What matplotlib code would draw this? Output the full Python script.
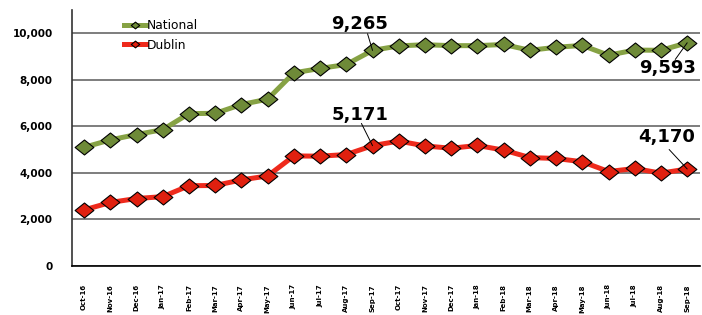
import numpy as np
import matplotlib
matplotlib.use("Agg")
import matplotlib.pyplot as plt
from matplotlib.path import Path

months = ["Oct-16", "Nov-16", "Dec-16", "Jan-17", "Feb-17", "Mar-17", "Apr-17", "May-17",
          "Jun-17", "Jul-17", "Aug-17", "Sep-17", "Oct-17", "Nov-17", "Dec-17", "Jan-18",
          "Feb-18", "Mar-18", "Apr-18", "May-18", "Jun-18", "Jul-18", "Aug-18", "Sep-18"]

national = [5100, 5420, 5650, 5860, 6550, 6560, 6940, 7170, 8300, 8490, 8660, 9265,
            9460, 9510, 9470, 9470, 9520, 9270, 9400, 9480, 9060, 9280, 9270, 9593]
dublin = [2410, 2730, 2900, 2980, 3450, 3460, 3700, 3870, 4730, 4720, 4790, 5171,
          5370, 5160, 5060, 5180, 4980, 4660, 4620, 4480, 4060, 4190, 3990, 4170]

nat_line = "#86a244"
nat_mark = "#6e8a38"
dub_line = "#ee2a1c"
dub_mark = "#e0200f"

# flattened diamond, a bit wider than tall
diamond = Path([(-1, 0), (0, 0.8), (1, 0), (0, -0.8), (-1, 0)],
               [Path.MOVETO, Path.LINETO, Path.LINETO, Path.LINETO, Path.CLOSEPOLY])

fig = plt.figure(figsize=(7.02, 3.15), dpi=100)
ax = fig.add_axes([0.1026, 0.1556, 0.895, 0.8125])

x = np.arange(len(months))
ax.plot(x, national, color=nat_line, lw=3.6, marker=diamond, ms=13.5,
        mfc=nat_mark, mec="black", mew=0.8, label="National", zorder=3)
ax.plot(x, dublin, color=dub_line, lw=3.6, marker=diamond, ms=13.5,
        mfc=dub_mark, mec="black", mew=0.8, label="Dublin", zorder=3)

ax.set_xlim(-0.46, 23.5)
ax.set_ylim(0, 11000)
ax.set_yticks(np.arange(0, 10001, 2000))
ax.set_yticklabels(["{:,}".format(v) for v in range(0, 10001, 2000)],
                   fontsize=7.5, fontweight="bold")
ax.set_xticks(x)
ax.set_xticklabels(months, rotation=90, fontsize=5, fontweight="bold",
                   family=["Liberation Sans Narrow", "DejaVu Sans"])
ax.tick_params(axis="y", length=0, pad=14)
ax.tick_params(axis="x", length=0, pad=13)
ax.yaxis.grid(True, color="#5a5a5a", lw=1.1)
ax.set_axisbelow(True)
for s in ["top", "right"]:
    ax.spines[s].set_visible(False)
ax.spines["left"].set_color("#333333")
ax.spines["bottom"].set_color("black")
ax.spines["left"].set_linewidth(1.2)
ax.spines["bottom"].set_linewidth(1.2)

leg = ax.legend(loc="upper left", bbox_to_anchor=(0.075, 0.984), frameon=False,
                fontsize=8.8, handlelength=1.8, markerscale=0.45, labelspacing=0.55,
                handletextpad=0.05, borderaxespad=0)

def label(i, series, text, tx, ty, lx, ly):
    # text offset (tx, ty) and leader line start (lx, ly), both in points from the marker
    ax.annotate(text, xy=(i, series[i]), xytext=(tx, ty), textcoords="offset points",
                fontsize=13, fontweight="bold", ha="center", va="center", zorder=5)
    ax.annotate("", xy=(i, series[i]), xytext=(lx, ly), textcoords="offset points",
                arrowprops=dict(arrowstyle="-", color="black", lw=0.7,
                                shrinkA=0, shrinkB=0), zorder=5)

label(11, national, "9,265", -9, 19, -3.6, 12)
label(11, dublin, "5,171", -9, 22, -8, 16)
label(23, national, "9,593", -14.5, -18, -8.6, -12)
label(23, dublin, "4,170", -15, 23, -13, 14)

fig.savefig("out.png", dpi=100)
